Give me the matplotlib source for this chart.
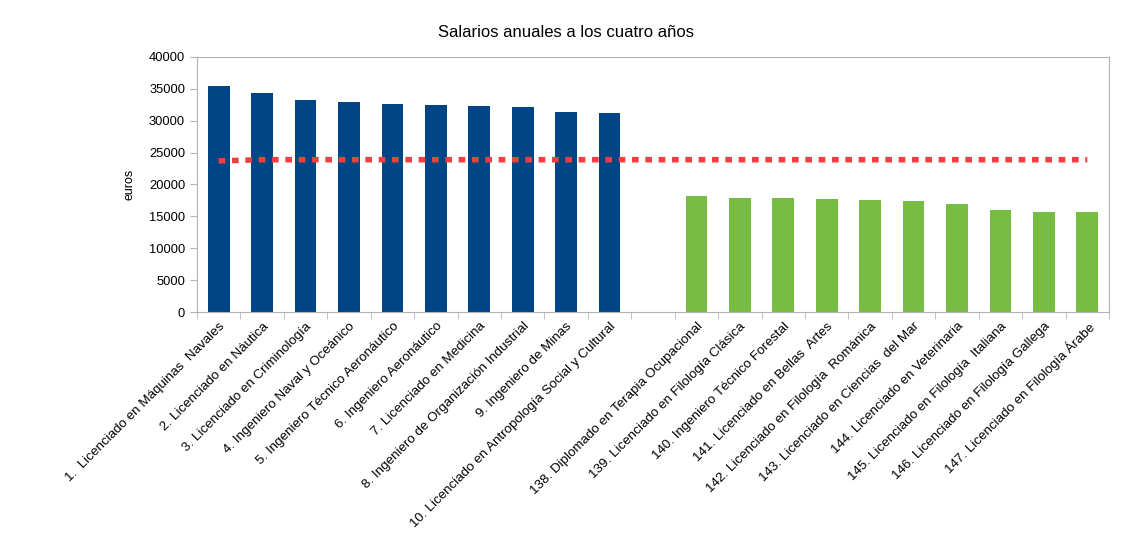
import numpy as np
import matplotlib.pyplot as plt
from matplotlib.ticker import MultipleLocator

plt.rcParams['font.family'] = ['Liberation Sans', 'DejaVu Sans']

top_labels = ['1.  Licenciado en Máquinas  Navales', '2. Licenciado en Náutica',
              '3. Licenciado en Criminología', '4. Ingeniero Naval y Oceánico',
              '5. Ingeniero Técnico Aeronáutico', '6. Ingeniero Aeronáutico',
              '7. Licenciado en Medicina', '8. Ingeniero de Organización Industrial',
              '9. Ingeniero de Minas', '10. Licenciado en Antropología Social y Cultural']
top_values = [35450, 34350, 33250, 32940, 32620, 32470, 32310, 32150, 31370, 31220]

bottom_labels = ['138. Diplomado en Terapia Ocupacional', '139. Licenciado en Filología Clásica',
                 '140. Ingeniero Técnico Forestal', '141. Licenciado en Bellas  Artes',
                 '142. Licenciado en Filología  Románica', '143. Licenciado en Ciencias  del Mar',
                 '144. Licenciado en Veterinaria', '145. Licenciado en Filología  Italiana',
                 '146. Licenciado en Filología Gallega', '147. Licenciado en Filología Árabe']
bottom_values = [18200, 17880, 17880, 17720, 17570, 17410, 16940, 16000, 15690, 15690]

# media (linea roja)
media = [23700] + [23890] * 20

labels = top_labels + [''] + bottom_labels
x = np.arange(len(labels))

fig = plt.figure(figsize=(11.32, 5.5), dpi=100)
ax = fig.add_axes([0.174, 0.4327, 0.8057, 0.4637])

ax.bar(x[:10], top_values, width=0.5, color='#004586')
ax.bar(x[11:], bottom_values, width=0.5, color='#77bd43')
ax.plot(x, media, color='#ee4040', linestyle=(0, (1.2, 1.2)), linewidth=4)

ax.set_xlim(-0.5, len(labels) - 0.5)
ax.set_ylim(0, 40000)
ax.yaxis.set_major_locator(MultipleLocator(5000))
ax.set_xticks(x)
ax.set_xticklabels(labels, rotation=45, ha='right', rotation_mode='anchor', fontsize=9.6)
ax.set_xticks(np.arange(-0.5, len(labels), 1), minor=True)
ax.tick_params(axis='x', which='major', length=0, pad=6)
ax.tick_params(axis='x', which='minor', length=5, color='#b3b3b3')
ax.tick_params(axis='y', length=5, color='#b3b3b3', labelsize=9.3)
for s in ax.spines.values():
    s.set_color('#b3b3b3')

ax.set_ylabel('euros', fontsize=9, labelpad=10)
fig.suptitle('Salarios anuales a los cuatro años', y=0.955, fontsize=12)

fig.savefig('out.png', dpi=100)
